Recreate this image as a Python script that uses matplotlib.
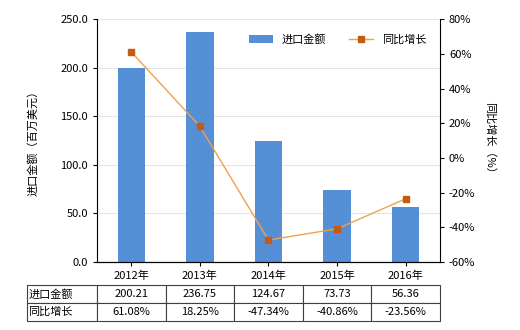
import matplotlib
matplotlib.use("Agg")
import matplotlib.pyplot as plt
from matplotlib.ticker import FuncFormatter
import numpy as np

plt.rcParams['font.family'] = ['Noto Sans CJK SC', 'DejaVu Sans']
plt.rcParams['font.size'] = 8

years = ['2012年', '2013年', '2014年', '2015年', '2016年']
amount = [200.21, 236.75, 124.67, 73.73, 56.36]
growth = [61.08, 18.25, -47.34, -40.86, -23.56]
amount_labels = ['200.21', '236.75', '124.67', '73.73', '56.36']
growth_labels = ['61.08%', '18.25%', '-47.34%', '-40.86%', '-23.56%']

fig = plt.figure(figsize=(5.2, 3.3), dpi=100)
ax = fig.add_axes([0.1865, 0.206, 0.6595, 0.736])
x = np.arange(len(years))

ax.bar(x, amount, width=0.4, color='#5590D6', label='进口金额', zorder=2)
ax.set_ylim(0, 250)
ax.set_xlim(-0.5, 4.5)
ax.set_yticks(np.arange(0, 251, 50))
ax.yaxis.set_major_formatter(FuncFormatter(lambda v, p: f'{v:.1f}'))
ax.grid(axis='y', color='#e4e4e4', linewidth=0.8, zorder=0)
ax.set_xticks(x)
ax.set_xticklabels(years)
ax.set_ylabel('进口金额（百万美元）', labelpad=16)
ax.spines['top'].set_visible(False)
ax.spines['right'].set_visible(False)
ax.tick_params(length=3, width=0.8)

ax2 = ax.twinx()
ax2.plot(x, growth, color='#F0A050', linewidth=1, marker='s', markersize=5,
         markerfacecolor='#C55A11', markeredgecolor='#C55A11', label='同比增长', zorder=3)
ax2.set_ylim(-60, 80)
ax2.set_yticks(np.arange(-60, 81, 20))
ax2.yaxis.set_major_formatter(FuncFormatter(lambda v, p: f'{v:.0f}%'))
ax2.set_ylabel('同比增长（%）', rotation=-90, labelpad=14)
ax2.spines['top'].set_visible(False)
ax2.spines['left'].set_visible(False)
ax2.tick_params(length=3, width=0.8)

h1, l1 = ax.get_legend_handles_labels()
h2, l2 = ax2.get_legend_handles_labels()
ax.legend(h1 + h2, l1 + l2, loc='upper right', ncol=2, frameon=False,
          bbox_to_anchor=(0.99, 0.98), handlelength=2.2, columnspacing=2)

cells = [['进口金额'] + amount_labels, ['同比增长'] + growth_labels]
tab = ax.table(cellText=cells, cellLoc='center',
               colWidths=[70 / 343] + [68.6 / 343] * 5,
               bbox=[-0.204, -0.243, 1.204, 0.148])
tab.auto_set_font_size(False)
tab.set_fontsize(8)
for (r, c), cell in tab.get_celld().items():
    cell.set_edgecolor('#404040')
    cell.set_linewidth(0.8)
    if c == 0:
        cell.get_text().set_ha('left')
        cell.PAD = 0.02

fig.savefig('out.png', dpi=100)
